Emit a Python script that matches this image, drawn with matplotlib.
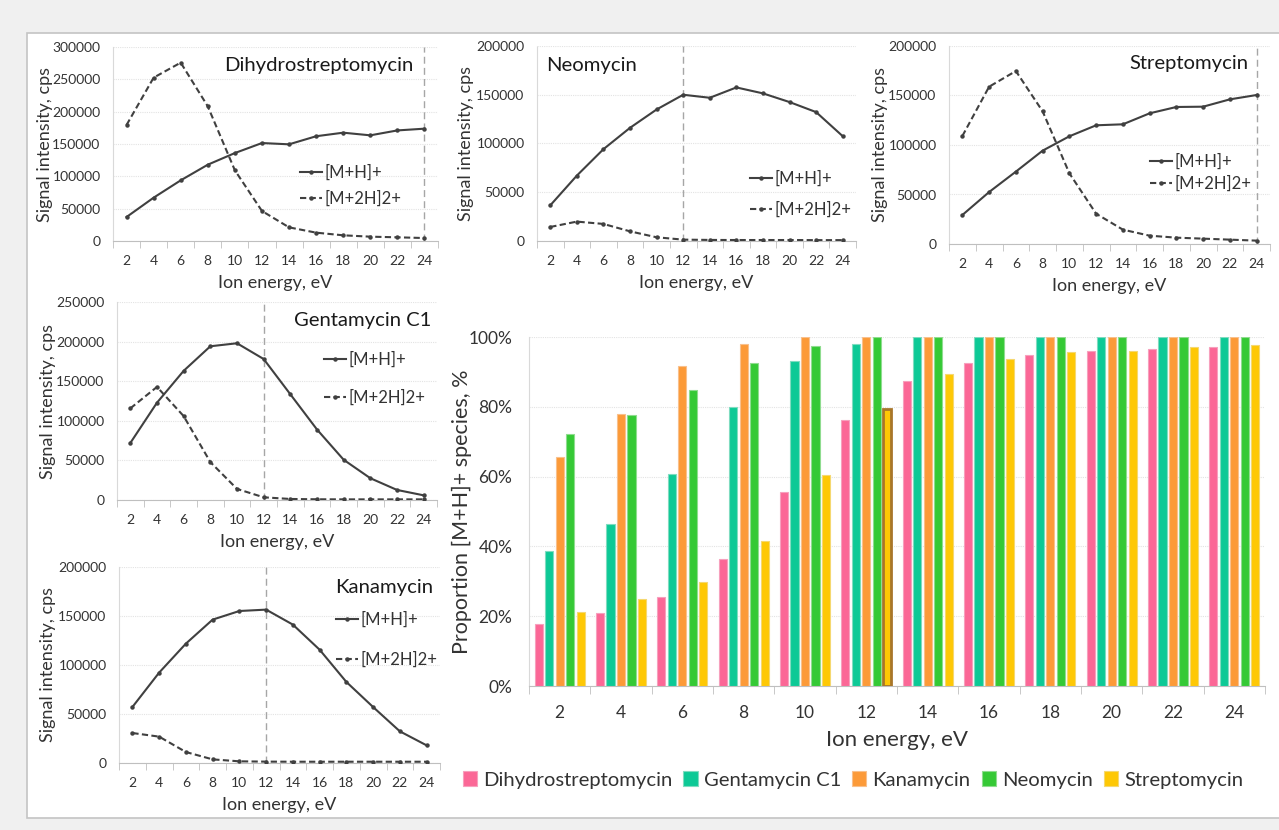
import matplotlib
matplotlib.use('Agg')
import matplotlib.pyplot as plt
import numpy as np
from matplotlib.patches import Rectangle
from matplotlib.ticker import FuncFormatter

plt.rcParams['font.family'] = ['Lato', 'DejaVu Sans']

# ---------------- data ----------------
energy = [2, 4, 6, 8, 10, 12, 14, 16, 18, 20, 22, 24]

dhs_mh = [37100, 67000, 93800, 118000, 136000, 151500, 149500, 162000, 167500, 163400, 171000, 173700]
dhs_m2h = [179400, 252600, 275800, 208200, 109300, 46400, 21100, 12900, 8800, 6700, 5700, 4600]

neo_mh = [36600, 67100, 94200, 116100, 134900, 150000, 146900, 157500, 151400, 142500, 132200, 107500]
neo_m2h = [14400, 19900, 17500, 9900, 3800, 1400, 1100, 1000, 1000, 1000, 900, 900]

str_mh = [29300, 52500, 73100, 94300, 108800, 119900, 120900, 132000, 138400, 138700, 146100, 150500]
str_m2h = [109100, 158900, 174700, 134000, 71400, 30600, 14500, 8400, 6400, 5400, 4400, 3400]

gen_mh = [72000, 122900, 163100, 194100, 197900, 178000, 133500, 89000, 50800, 27500, 12700, 5900]
gen_m2h = [115700, 142800, 105900, 47900, 14000, 3400, 1300, 900, 800, 800, 800, 800]

kan_mh = [57100, 92200, 121800, 146300, 155100, 156500, 141200, 115600, 82700, 57100, 32300, 18000]
kan_m2h = [30600, 26900, 11200, 3700, 1700, 1400, 1300, 1300, 1300, 1300, 1300, 1300]

prop_names = ['Dihydrostreptomycin', 'Gentamycin C1', 'Kanamycin', 'Neomycin', 'Streptomycin']
prop_dhs = [17.7, 21.0, 25.5, 36.3, 55.5, 76.3, 87.4, 92.6, 94.9, 95.9, 96.7, 97.2]
prop_gen = [38.6, 46.3, 60.8, 80.0, 93.2, 98.1, 100, 100, 100, 100, 100, 100]
prop_kan = [65.5, 77.8, 91.7, 97.9, 100, 100, 100, 100, 100, 100, 100, 100]
prop_neo = [72.3, 77.6, 84.7, 92.6, 97.4, 100, 100, 100, 100, 100, 100, 100]
prop_str = [21.2, 24.9, 29.7, 41.5, 60.6, 79.5, 89.5, 93.8, 95.6, 96.1, 97.0, 97.6]

series_labels = ['[M+H]+', '[M+2H]2+']

# ---------------- figure ----------------
W, H = 1279, 830
fig = plt.figure(figsize=(W / 100, H / 100), dpi=100, facecolor='#f0f0f0')
fig.patches.append(Rectangle((27 / W, 1 - 818 / H), (W - 27 + 5) / W, (818 - 33) / H,
                             transform=fig.transFigure, facecolor='white',
                             edgecolor='#c4c4c4', lw=1.2, zorder=-5))

TXT = '#333333'


def rect(x0, y0, x1, y1):
    return [x0 / W, 1 - y1 / H, (x1 - x0) / W, (y1 - y0) / H]


def style_common(ax):
    for s in ['top', 'right']:
        ax.spines[s].set_visible(False)
    ax.spines['left'].set_color('#d9d9d9')
    ax.spines['left'].set_linestyle((0, (1, 1)))
    ax.spines['bottom'].set_color('#bfbfbf')
    ax.yaxis.grid(True, color='#e3e3e3', lw=0.8, ls=(0, (1, 1)))
    ax.set_axisbelow(True)


def line_panel(box, mh, m2h, ymax, vline_e, title, tx, ty, tha, lx, ly, lsp, ylab_px):
    ax = fig.add_axes(rect(*box))
    ax.set_facecolor('none')
    x = np.arange(len(energy))
    ax.plot(x, mh, color='#404040', lw=1.5, marker='o', ms=2.2, label=series_labels[0], zorder=3)
    ax.plot(x, m2h, color='#404040', lw=1.5, ls=(0, (3, 1.6)), marker='o', ms=2.2,
            label=series_labels[1], zorder=3)
    ax.axvline(energy.index(vline_e), color='#a6a6a6', lw=1.0, ls=(0, (5, 3)), zorder=2)
    ax.set_xlim(-0.5, len(energy) - 0.5)
    ax.set_ylim(0, ymax)
    ax.set_yticks(np.arange(0, ymax + 1, 50000))
    ax.yaxis.set_major_formatter(FuncFormatter(lambda v, p: f'{int(v)}'))
    ax.set_xticks(x)
    ax.set_xticklabels([str(e) for e in energy])
    ax.set_xticks(np.arange(-0.5, len(energy), 1), minor=True)
    ax.tick_params(axis='x', which='major', length=0, pad=10, labelsize=10, labelcolor=TXT)
    ax.tick_params(axis='x', which='minor', length=5, color='#bfbfbf', direction='out')
    ax.tick_params(axis='y', length=0, pad=9, labelsize=10, labelcolor=TXT)
    style_common(ax)
    ax.set_xlabel('Ion energy, eV', fontsize=13, color=TXT, va='center')
    ax.xaxis.set_label_coords(0.5, -42 / (box[3] - box[1]))
    ax.set_ylabel('Signal intensity, cps', fontsize=13, color=TXT, va='center')
    ax.yaxis.set_label_coords((ylab_px - box[0]) / (box[2] - box[0]), 0.5)
    fig.text(tx / W, 1 - ty / H, title, ha=tha, va='center', fontsize=14.6, color='#1a1a1a')
    ax.legend(loc='upper left', bbox_to_anchor=(lx / W, 1 - ly / H), bbox_transform=fig.transFigure,
              frameon=False, borderpad=0, borderaxespad=0, handlelength=1.3, handletextpad=0.2,
              labelspacing=lsp, fontsize=12, numpoints=1, labelcolor=TXT)
    return ax


line_panel((113, 47, 438, 241), dhs_mh, dhs_m2h, 300000, 24, 'Dihydrostreptomycin',
           413, 65, 'right', 300, 165, 0.55, 45)
line_panel((537, 46, 856, 241), neo_mh, neo_m2h, 200000, 12, 'Neomycin',
           546, 66, 'left', 750, 171, 0.85, 466)
line_panel((949, 46, 1270, 244), str_mh, str_m2h, 200000, 24, 'Streptomycin',
           1248, 63, 'right', 1150, 154, 0.35, 880)
line_panel((117, 302, 437, 500), gen_mh, gen_m2h, 250000, 12, 'Gentamycin C1',
           431, 320, 'right', 324, 352, 1.3, 48)
line_panel((119, 567, 440, 763), kan_mh, kan_m2h, 200000, 12, 'Kanamycin',
           433, 587, 'right', 336, 612, 1.4, 48)

# ---------------- bar panel ----------------
box = (529, 337, 1265, 686)
axb = fig.add_axes(rect(*box))
axb.set_facecolor('none')
xb = np.arange(len(energy))
colors = ['#fb6796', '#0dc996', '#fc9a38', '#35c935', '#fec805']
edges = ['#f7a0bd', '#7fdcc0', '#f9c08c', '#8fdc8f', '#f5d870']
all_props = [prop_dhs, prop_gen, prop_kan, prop_neo, prop_str]
step = 0.171
wbar = 0.135
for i, (vals, name, c, ec) in enumerate(zip(all_props, prop_names, colors, edges)):
    ecs = [ec] * len(energy)
    lws = [0.8] * len(energy)
    if name == 'Streptomycin':
        ecs[energy.index(12)] = '#a8762a'
        lws[energy.index(12)] = 2.0
    axb.bar(xb + (i - 2) * step, vals, width=wbar, color=c, edgecolor=ecs, linewidth=lws,
            label=name, zorder=3)
axb.set_xlim(-0.5, len(energy) - 0.5)
axb.set_ylim(0, 100)
axb.set_yticks(np.arange(0, 101, 20))
axb.yaxis.set_major_formatter(FuncFormatter(lambda v, p: f'{v:.0f}%'))
axb.set_xticks(xb)
axb.set_xticklabels([str(e) for e in energy])
axb.set_xticks(np.arange(-0.5, len(energy), 1), minor=True)
axb.tick_params(axis='x', which='major', length=0, pad=14, labelsize=12.5, labelcolor=TXT)
axb.tick_params(axis='x', which='minor', length=6, color='#bfbfbf', direction='out')
axb.tick_params(axis='y', length=0, pad=12, labelsize=12.5, labelcolor=TXT)
style_common(axb)
axb.set_xlabel('Ion energy, eV', fontsize=16, color=TXT, va='center')
axb.xaxis.set_label_coords(0.5, -54 / (box[3] - box[1]))
axb.set_ylabel('Proportion [M+H]+ species, %', fontsize=15.5, color=TXT, va='center')
axb.yaxis.set_label_coords((462 - box[0]) / (box[2] - box[0]), 0.5)

handles, labels = axb.get_legend_handles_labels()
fig.legend(handles, labels, loc='center', bbox_to_anchor=(853 / W, 1 - 780 / H),
           bbox_transform=fig.transFigure, ncol=5, frameon=False, fontsize=14.6,
           handlelength=0.7, handleheight=0.7, handletextpad=0.3, columnspacing=0.55,
           labelcolor=TXT)

fig.savefig('out.png', dpi=100, facecolor=fig.get_facecolor())
